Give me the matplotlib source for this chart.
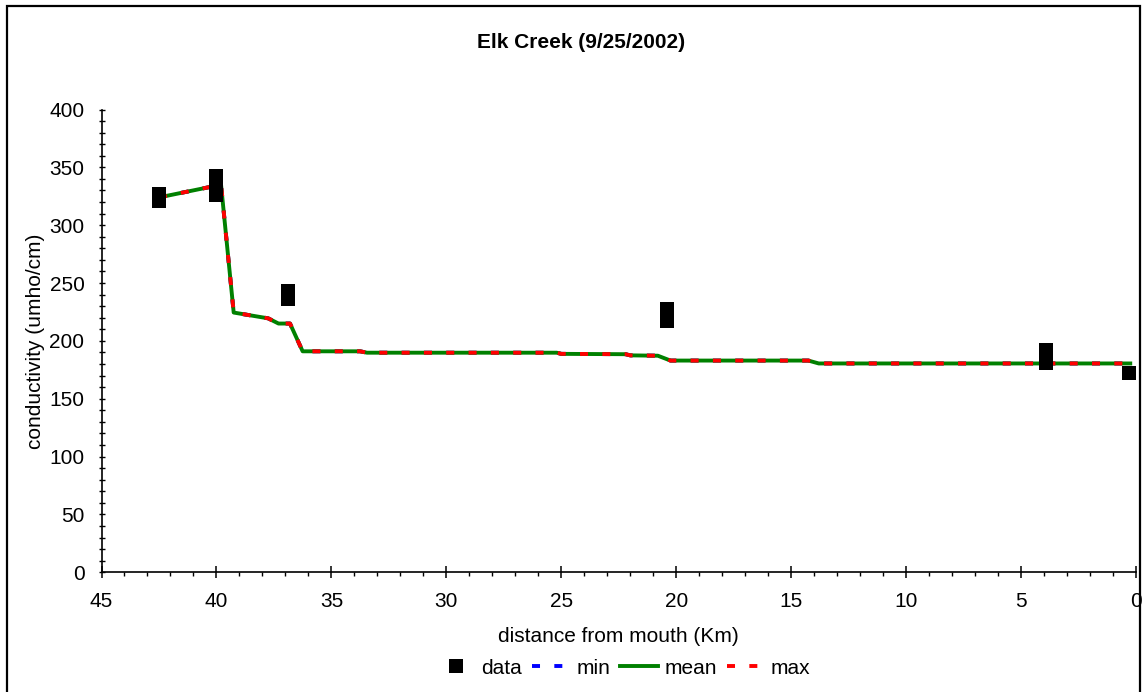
import matplotlib
matplotlib.use("Agg")
import matplotlib.pyplot as plt
from matplotlib.patches import Rectangle
from matplotlib.ticker import MultipleLocator

plt.rcParams['font.family'] = ['Liberation Sans', 'DejaVu Sans']

title = "Elk Creek (9/25/2002)"
xlabel = "distance from mouth (Km)"
ylabel = "conductivity (umho/cm)"

data_km = [42.5, 42.5, 40.0, 40.0, 40.0, 36.9, 36.9, 20.4, 20.4, 3.9, 3.9, 0.3]
data_cond = [327, 321, 342.5, 331, 326.5, 243, 236, 228, 217, 192, 181, 172]

model_km = [42.5, 39.8, 39.25, 37.75, 37.3, 36.8, 36.25, 33.75, 33.45, 25.2,
            25.0, 22.2, 22.0, 20.8, 20.25, 14.25, 13.8, 0.25]
mean_cond = [324, 335, 224.5, 219.5, 215, 215, 191, 191, 189.8, 189.8,
             188.8, 188.5, 187.5, 187.2, 183, 183, 180.5, 180.5]
min_cond = [324, 335, 224.5, 219.5, 215, 215, 191, 191, 189.8, 189.8,
            188.8, 188.5, 187.5, 187.2, 183, 183, 180.5, 180.5]
max_cond = [324, 335, 224.5, 219.5, 215, 215, 191, 191, 189.8, 189.8,
            188.8, 188.5, 187.5, 187.2, 183, 183, 180.5, 180.5]

FS = 15
W, H = 1146, 692
fig = plt.figure(figsize=(W / 100, H / 100), dpi=100)
ax_l, ax_r, ax_t, ax_b = 101.5, 1136.0, 109.5, 572.3
ax = fig.add_axes([ax_l / W, 1 - ax_b / H, (ax_r - ax_l) / W, (ax_b - ax_t) / H])

lw = 2.8
dash = (2.06, 3.68)
ax.plot(data_km, data_cond, linestyle='none', marker='s', markersize=9.4,
        color='black', markeredgewidth=0, label='data', zorder=5, clip_on=False)
ax.plot(model_km, min_cond, color='#0000ff', lw=lw, dashes=dash,
        dash_capstyle='butt', label='min', zorder=2)
ax.plot(model_km, mean_cond, color='#008000', lw=lw, label='mean', zorder=3)
ax.plot(model_km, max_cond, color='#ff0000', lw=lw, dashes=dash,
        dash_capstyle='butt', label='max', zorder=4)

ax.set_xlim(45, 0)
ax.set_ylim(0, 400)
ax.xaxis.set_major_locator(MultipleLocator(5))
ax.xaxis.set_minor_locator(MultipleLocator(1))
ax.yaxis.set_major_locator(MultipleLocator(50))
ax.yaxis.set_minor_locator(MultipleLocator(10))

for s in ['top', 'right']:
    ax.spines[s].set_visible(False)
for s in ['left', 'bottom']:
    ax.spines[s].set_linewidth(1.2)

ax.tick_params(axis='x', which='major', direction='inout', length=8.4, width=1.1,
               labelsize=FS, pad=10)
ax.tick_params(axis='x', which='minor', direction='out', length=2.8, width=1.0)
ax.tick_params(axis='y', which='major', direction='inout', length=4.5, width=1.0,
               labelsize=FS, pad=10)
ax.tick_params(axis='y', which='minor', direction='inout', length=4.5, width=1.0)

ax.set_xlabel(xlabel, fontsize=FS)
ax.xaxis.set_label_coords(0.5, -(637 - ax_b) / (ax_b - ax_t))
ax.xaxis.label.set_va('center')
ax.set_ylabel(ylabel, fontsize=FS)
ax.yaxis.set_label_coords(-(ax_l - 35) / (ax_r - ax_l), 0.5)
ax.yaxis.label.set_va('center')

fig.text(581 / W, 1 - 42 / H, title, ha='center', va='center',
         fontsize=FS, fontweight='bold')

fig.legend(loc='center', bbox_to_anchor=(624 / W, 1 - 668 / H), ncol=4,
           frameon=False, fontsize=FS, handlelength=1.8, handletextpad=0.3,
           columnspacing=0.5, borderpad=0)

fig.add_artist(Rectangle((7 / W, -0.01), (1140 - 7) / W, 1.01 - 6 / H,
                         transform=fig.transFigure, fill=False,
                         edgecolor='black', linewidth=1.6))

fig.savefig("out.png", dpi=100)
